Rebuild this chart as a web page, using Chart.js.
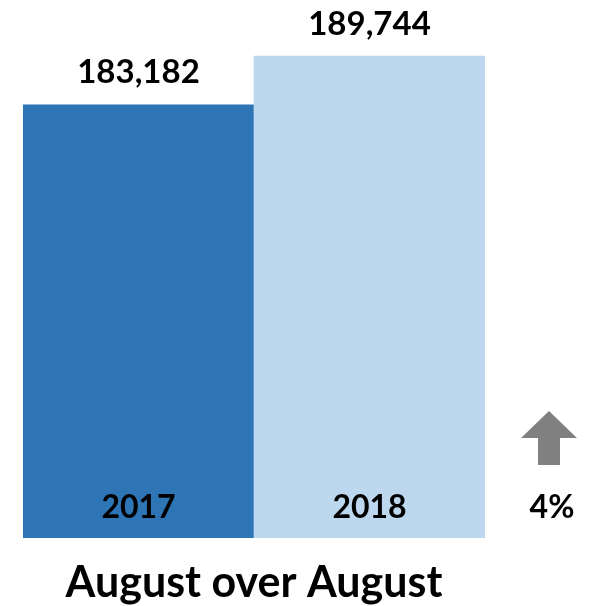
<!DOCTYPE html>
<html>
<head>
<meta charset="utf-8">
<script src="https://cdn.jsdelivr.net/npm/chart.js@4"></script>
<style>
  html, body { margin: 0; padding: 0; background: #fff; }
  #wrap { width: 600px; height: 606px; }
</style>
</head>
<body>
<div id="wrap"><canvas id="grafica"></canvas></div>
<script>
// --- datos ---
const anios = ['2017', '2018'];
const visitas = [183182, 189744];
const colores = ['#2E75B6', '#BDD7EE'];
const titulo = 'August over August';

const FUENTE = 'Lato, "Open Sans", sans-serif';

// cambio porcentual entre los dos años
const cambio = Math.round((visitas[1] - visitas[0]) / visitas[0] * 100);

// etiquetas, flecha y título dibujados sobre el canvas
const etiquetas = {
    id: 'etiquetas',
    afterDatasetsDraw(chart) {
        const ctx = chart.ctx;
        const area = chart.chartArea;
        const barras = chart.getDatasetMeta(0).data;
        ctx.save();
        ctx.fillStyle = '#000';
        ctx.textAlign = 'center';
        ctx.textBaseline = 'middle';

        barras.forEach((b, i) => {
            ctx.font = 'bold 33px ' + FUENTE;
            ctx.fillText(visitas[i].toLocaleString('en-US'), b.x, b.y - 32);
            ctx.font = 'bold 32px ' + FUENTE;
            ctx.fillText(anios[i], b.x, area.bottom - 30);
        });

        // flecha gris hacia arriba
        const cx = area.right + 64;
        ctx.fillStyle = '#808080';
        ctx.beginPath();
        ctx.moveTo(cx, 411);
        ctx.lineTo(cx + 28, 438);
        ctx.lineTo(cx + 11, 438);
        ctx.lineTo(cx + 11, 465);
        ctx.lineTo(cx - 11, 465);
        ctx.lineTo(cx - 11, 438);
        ctx.lineTo(cx - 28, 438);
        ctx.closePath();
        ctx.fill();

        ctx.fillStyle = '#000';
        ctx.font = 'bold 32px ' + FUENTE;
        ctx.fillText(cambio + '%', cx + 3, area.bottom - 30);

        ctx.font = 'bold 43px ' + FUENTE;
        ctx.fillText(titulo, (area.left + area.right) / 2, area.bottom + 45);
        ctx.restore();
    }
};

new Chart(document.getElementById('grafica'), {
    type: 'bar',
    data: {
        labels: anios,
        datasets: [{
            data: visitas,
            backgroundColor: colores,
            borderWidth: 0,
            categoryPercentage: 1,
            barPercentage: 1
        }]
    },
    options: {
        responsive: true,
        maintainAspectRatio: false,
        animation: false,
        layout: { padding: { left: 23, right: 115, top: 0, bottom: 68 } },
        plugins: { legend: { display: false }, tooltip: { enabled: false } },
        scales: {
            x: { display: false },
            y: { display: false, min: 125000, max: 197266 }
        }
    },
    plugins: [etiquetas]
});
</script>
</body>
</html>
